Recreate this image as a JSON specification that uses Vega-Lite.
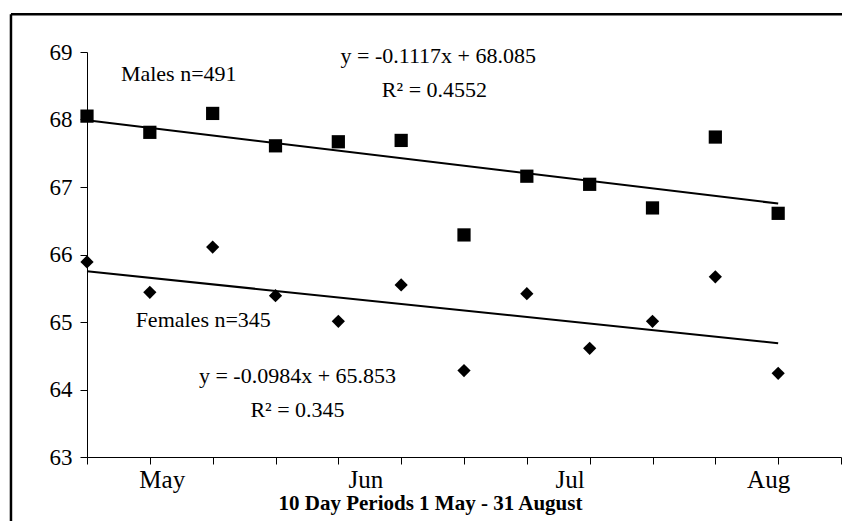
{
  "$schema": "https://vega.github.io/schema/vega-lite/v6.json",
  "width": 754,
  "height": 405,
  "autosize": {"type": "none"},
  "padding": {"left": 87, "top": 52, "right": 1, "bottom": 64},
  "background": "white",
  "config": {
    "view": {"stroke": null},
    "font": "Liberation Serif",
    "axis": {"grid": false, "domainColor": "#000", "tickColor": "#000", "labelColor": "#000", "titleColor": "#000", "domainWidth": 1, "tickWidth": 1}
  },
  "datasets": {
    "heights": [
      {"period": 1, "height": 68.05, "sex": "Males"},
      {"period": 2, "height": 67.81, "sex": "Males"},
      {"period": 3, "height": 68.09, "sex": "Males"},
      {"period": 4, "height": 67.61, "sex": "Males"},
      {"period": 5, "height": 67.67, "sex": "Males"},
      {"period": 6, "height": 67.69, "sex": "Males"},
      {"period": 7, "height": 66.29, "sex": "Males"},
      {"period": 8, "height": 67.16, "sex": "Males"},
      {"period": 9, "height": 67.04, "sex": "Males"},
      {"period": 10, "height": 66.69, "sex": "Males"},
      {"period": 11, "height": 67.74, "sex": "Males"},
      {"period": 12, "height": 66.61, "sex": "Males"},
      {"period": 1, "height": 65.89, "sex": "Females"},
      {"period": 2, "height": 65.44, "sex": "Females"},
      {"period": 3, "height": 66.11, "sex": "Females"},
      {"period": 4, "height": 65.39, "sex": "Females"},
      {"period": 5, "height": 65.01, "sex": "Females"},
      {"period": 6, "height": 65.55, "sex": "Females"},
      {"period": 7, "height": 64.28, "sex": "Females"},
      {"period": 8, "height": 65.42, "sex": "Females"},
      {"period": 9, "height": 64.61, "sex": "Females"},
      {"period": 10, "height": 65.01, "sex": "Females"},
      {"period": 11, "height": 65.67, "sex": "Females"},
      {"period": 12, "height": 64.24, "sex": "Females"}
    ],
    "notes": [
      {"period": 2.46, "height": 68.575, "label": "Males n=491"},
      {"period": 6.59, "height": 68.841, "label": "y = -0.1117x + 68.085"},
      {"period": 6.53, "height": 68.338, "label": "R² = 0.4552"},
      {"period": 2.85, "height": 64.93, "label": "Females n=345"},
      {"period": 4.35, "height": 64.101, "label": "y = -0.0984x + 65.853"},
      {"period": 4.35, "height": 63.588, "label": "R² = 0.345"}
    ],
    "frame": [
      {"px": -0.21, "px2": -0.21, "py": 69.56, "py2": 61.5},
      {"px": -0.21, "px2": 14.5, "py": 69.56, "py2": 69.56}
    ]
  },
  "data": {"name": "heights"},
  "encoding": {
    "x": {
      "field": "period",
      "type": "quantitative",
      "scale": {"domain": [1, 13], "nice": false, "zero": false},
      "axis": {
        "values": [1, 2, 3, 4, 5, 6, 7, 8, 9, 10, 11, 12, 13, 2.19, 5.43, 8.68, 11.84],
        "labelExpr": "datum.value == 2.19 ? 'May' : datum.value == 5.43 ? 'Jun' : datum.value == 8.68 ? 'Jul' : datum.value == 11.84 ? 'Aug' : ''",
        "tickOpacity": {"condition": {"test": "datum.value % 1 != 0", "value": 0}, "value": 1},
        "tickSize": 7,
        "labelFontSize": 25,
        "labelPadding": 3,
        "labelOverlap": false,
        "labelFlush": false,
        "labelBound": false,
        "title": "10 Day Periods 1 May - 31 August",
        "titleFontSize": 21,
        "titleFontWeight": "bold",
        "titleX": 343,
        "titleY": 52,
        "titleBaseline": "alphabetic",
        "titleAlign": "center",
        "encode": {"ticks": {"update": {"y": {"value": -7}}}}
      }
    },
    "y": {
      "field": "height",
      "type": "quantitative",
      "scale": {"domain": [63, 69], "nice": false, "zero": false},
      "axis": {
        "values": [63, 64, 65, 66, 67, 68, 69],
        "tickSize": 7,
        "labelFontSize": 23,
        "labelPadding": 8,
        "title": null,
        "encode": {"ticks": {"update": {"x": {"value": 7}}}}
      }
    }
  },
  "layer": [
    {
      "mark": {"type": "point", "filled": true, "size": 175, "opacity": 1, "color": "black", "strokeWidth": 0},
      "encoding": {
        "shape": {"field": "sex", "type": "nominal", "scale": {"domain": ["Males", "Females"], "range": ["square", "diamond"]}, "legend": null}
      }
    },
    {
      "transform": [{"regression": "height", "on": "period", "groupby": ["sex"]}],
      "mark": {"type": "line", "color": "black", "strokeWidth": 2},
      "encoding": {"detail": {"field": "sex", "type": "nominal"}}
    },
    {
      "data": {"name": "notes"},
      "mark": {"type": "text", "align": "center", "baseline": "alphabetic", "fontSize": 22, "color": "black"},
      "encoding": {"text": {"field": "label", "type": "nominal"}}
    },
    {
      "data": {"name": "frame"},
      "mark": {"type": "rule", "color": "black", "strokeWidth": 2.5, "clip": false},
      "encoding": {
        "x": {"field": "px", "type": "quantitative"},
        "x2": {"field": "px2"},
        "y": {"field": "py", "type": "quantitative"},
        "y2": {"field": "py2"}
      }
    }
  ]
}
